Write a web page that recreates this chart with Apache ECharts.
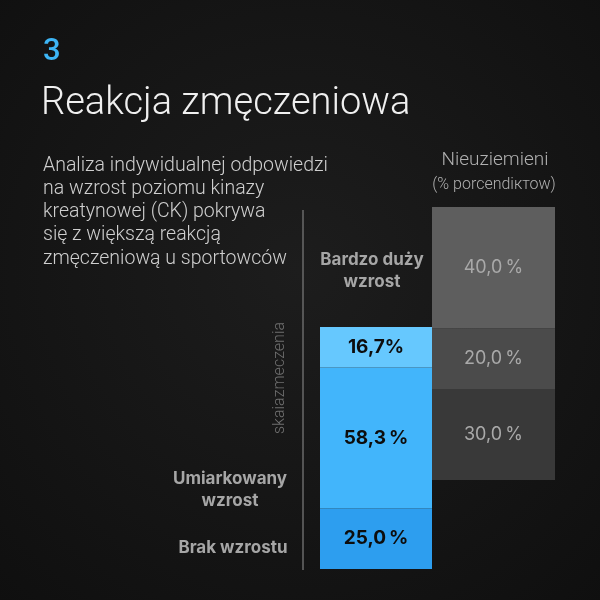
<!DOCTYPE html>
<html><head><meta charset="utf-8">
<script src="https://cdn.jsdelivr.net/npm/echarts@6/dist/echarts.min.js"></script>
<style>html,body{margin:0;padding:0;background:#161616}#c{width:600px;height:600px}</style>
</head><body><div id="c"></div>
<script>
// Data
const levels = ['Brak wzrostu', 'Umiarkowany wzrost', 'Bardzo duży wzrost'];
const athleteShares = [25.0, 58.3, 16.7];            // bottom -> top
const groundedLabels = ['30,0\u2009%', '20,0\u2009%', '40,0\u2009%'];
const groundedShares = [30.0, 20.0, 40.0];            // bottom -> top
const blueColors = ['#2d9eef', '#42b5fb', '#66c8fe'];
const grayColors = ['#393939', '#4b4b4b', '#5e5e5e'];
const descLines = [
  'Analiza indywidualnej odpowiedzi',
  'na wzrost poziomu kinazy',
  'kreatynowej (CK) pokrywa',
  'się z większą reakcją',
  'zmęczeniową u sportowców'
];

const chart = echarts.init(document.getElementById('c'));
const fmt = (v, sp) => v.toFixed(1).replace('.', ',') + sp + '%';

const series = [];
athleteShares.forEach((v, i) => {
  series.push({
    type: 'bar', name: levels[i], stack: 'a', xAxisIndex: 0, yAxisIndex: 0,
    barWidth: '100%', data: [v],
    itemStyle: { color: blueColors[i] },
    label: { show: true, position: 'inside', color: '#0d0d0d', fontFamily: 'Inter', fontWeight: 'bold', fontSize: 19,
      formatter: p => fmt(p.value, i === 2 ? '' : '\u2009') },
    silent: true
  });
});
groundedShares.forEach((v, i) => {
  series.push({
    type: 'bar', name: 'g' + i, stack: 'b', xAxisIndex: 1, yAxisIndex: 1,
    barWidth: '100%', data: [v],
    itemStyle: { color: grayColors[i] },
    label: { show: true, position: 'inside', color: '#a9a9a9', fontFamily: 'Inter', fontSize: 18,
      formatter: () => groundedLabels[i] },
    silent: true
  });
});

const txt = (x, y, text, style) => ({ type: 'text', x, y, style: Object.assign({ text, fill: '#ccc', fontFamily: 'Roboto' }, style) });
const catStyle = { fill: '#a6a6a6', fontFamily: 'Inter', fontWeight: 'bold', fontSize: 17, textAlign: 'center', textVerticalAlign: 'middle' };

const graphics = [
  txt(43, 52, '3', { fill: '#3db5f5', fontSize: 31, fontWeight: 500, textVerticalAlign: 'middle' }),
  txt(41, 104, 'Reakcja zmęczeniowa', { fill: '#f0f0f0', fontSize: 38, fontWeight: 300, textVerticalAlign: 'middle' }),
  txt(495, 160, 'Nieuziemieni', { fill: '#b0b0b0', fontSize: 19, fontWeight: 300, textAlign: 'center', textVerticalAlign: 'middle' }),
  txt(494, 185, '(% porcendiктоw)', { fill: '#b0b0b0', fontSize: 16, fontWeight: 300, textAlign: 'center', textVerticalAlign: 'middle' }),
  txt(372, 260, 'Bardzo duży', catStyle),
  txt(372, 282, 'wzrost', catStyle),
  txt(230, 479, 'Umiarkowany', catStyle),
  txt(230, 501, 'wzrost', catStyle),
  txt(233, 548, 'Brak wzrostu', catStyle),
  { type: 'line', shape: { x1: 303, y1: 210, x2: 303, y2: 570 }, style: { stroke: '#6a6a6a', lineWidth: 1.5 } },
  { type: 'text', x: 280, y: 378, rotation: Math.PI / 2,
    style: { text: 'skaiazmeczenia', fill: '#6f6f6f', fontFamily: 'Roboto', fontWeight: 300, fontSize: 16, textAlign: 'center', textVerticalAlign: 'middle' } }
];
descLines.forEach((l, i) => graphics.push(txt(43, 166 + i * 23.2, l, { fill: '#cfcfcf', fontSize: 19.5, fontWeight: 300, textVerticalAlign: 'middle' })));

chart.setOption({
  backgroundColor: { type: 'radial', x: 0.5, y: 0.45, r: 0.75,
    colorStops: [{ offset: 0, color: '#1d1d1d' }, { offset: 1, color: '#0f0f0f' }] },
  animation: false,
  grid: [
    { left: 320, width: 112, top: 327, height: 242 },
    { left: 432, width: 123, top: 207, height: 273 }
  ],
  xAxis: [
    { type: 'category', gridIndex: 0, data: ['Sportowcy'], show: false },
    { type: 'category', gridIndex: 1, data: ['Nieuziemieni'], show: false }
  ],
  yAxis: [
    { type: 'value', gridIndex: 0, min: 0, max: 100, show: false },
    { type: 'value', gridIndex: 1, min: 0, max: 90, show: false }
  ],
  series,
  graphic: graphics
});
</script></body></html>
